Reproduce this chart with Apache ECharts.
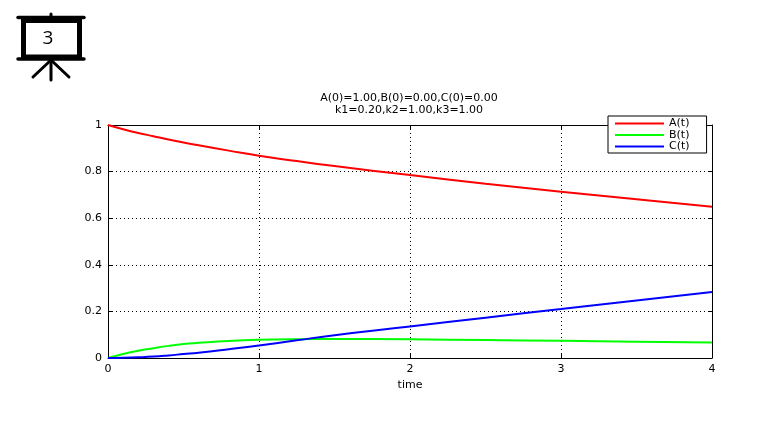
<!DOCTYPE html>
<html>
<head>
<meta charset="utf-8">
<style>html,body{margin:0;padding:0;background:#fff}#c{width:759px;height:426px}</style>
<script src="https://cdn.jsdelivr.net/npm/echarts@6/dist/echarts.min.js"></script>
</head>
<body>
<div id="c"></div>
<script>
const times = [0,0.1,0.2,0.3,0.4,0.5,0.6,0.8,1,1.25,1.5,2,2.5,3,3.5,4];
const seriesA = [1,0.982,0.966,0.952,0.938,0.925,0.913,0.890,0.868,0.845,0.824,0.785,0.748,0.714,0.681,0.649];
const seriesB = [0,0.017,0.031,0.042,0.052,0.060,0.065,0.073,0.078,0.081,0.082,0.080,0.077,0.074,0.070,0.066];
const seriesC = [0,0.001,0.003,0.006,0.011,0.017,0.023,0.038,0.054,0.076,0.098,0.135,0.173,0.210,0.247,0.283];
const names = ['A(t)','B(t)','C(t)'];
const colors = ['#ff0000','#00ff00','#0000ff'];
const titleLines = 'A(0)=1.00,B(0)=0.00,C(0)=0.00\nk1=0.20,k2=1.00,k3=1.00';
const xName = 'time';
const font = 'DejaVu Sans';
const pair = a => a.map((v,i)=>[times[i],v]);
const all = [seriesA,seriesB,seriesC];
const axisBase = {
  axisLine:{show:true,onZero:false,lineStyle:{color:'#000',width:1}},
  axisTick:{show:true,inside:true,length:4,lineStyle:{color:'#000'}},
  axisLabel:{color:'#000',fontFamily:font,fontSize:11,margin:6},
  splitLine:{show:false}
};
const chart = echarts.init(document.getElementById('c'),null,{renderer:'canvas'});
chart.setOption({
  animation:false,
  backgroundColor:'#fff',
  title:{text:titleLines,left:404,top:87,textAlign:'center',
    textStyle:{fontFamily:font,fontSize:11,fontWeight:'normal',color:'#000',lineHeight:12}},
  grid:{left:108,top:125,width:604,height:233,containLabel:false},
  legend:{show:true,orient:'vertical',left:608,top:116,itemWidth:49,itemHeight:12,itemGap:0.5,
    padding:[2,17,1,6],borderColor:'#000',borderWidth:1,backgroundColor:'#fff',z:20,
    itemStyle:{opacity:0},
    textStyle:{fontFamily:font,fontSize:11,color:'#000'},
    data:names},
  xAxis:[
    Object.assign({},axisBase,{type:'value',min:0,max:4,interval:1,name:xName,nameLocation:'middle',nameGap:20,
      nameTextStyle:{color:'#000',fontFamily:font,fontSize:11},
      splitLine:{show:true,lineStyle:{color:'#000',type:[1,3],width:1}}}),
    Object.assign({},axisBase,{type:'value',position:'top',min:0,max:4,interval:1,axisLabel:{show:false}})
  ],
  yAxis:[
    Object.assign({},axisBase,{type:'value',min:0,max:1,interval:0.2,
      axisLabel:Object.assign({},axisBase.axisLabel,{padding:[2,0,0,0]}),
      splitLine:{show:true,lineStyle:{color:'#000',type:[1,3],width:1}}}),
    Object.assign({},axisBase,{type:'value',position:'right',min:0,max:1,interval:0.2,axisLabel:{show:false}})
  ],
  series:all.map((d,i)=>({name:names[i],type:'line',data:pair(d),symbol:'none',showSymbol:false,smooth:true,
    lineStyle:{color:colors[i],width:2},itemStyle:{color:colors[i]},clip:false,z:5+i})),
  graphic:{elements:[
    {type:'rect',shape:{x:23.5,y:20.5,width:56,height:36.5},style:{fill:'#fff',stroke:'#000',lineWidth:5}},
    {type:'line',shape:{x1:18,y1:17.5,x2:84,y2:17.5},style:{stroke:'#000',lineWidth:3.5,lineCap:'round'}},
    {type:'line',shape:{x1:18,y1:59,x2:84,y2:59},style:{stroke:'#000',lineWidth:3.5,lineCap:'round'}},
    {type:'line',shape:{x1:51,y1:14,x2:51,y2:18},style:{stroke:'#000',lineWidth:3,lineCap:'round'}},
    {type:'line',shape:{x1:51,y1:59,x2:51,y2:80},style:{stroke:'#000',lineWidth:3,lineCap:'round'}},
    {type:'line',shape:{x1:51,y1:60,x2:33,y2:77},style:{stroke:'#000',lineWidth:3,lineCap:'round'}},
    {type:'line',shape:{x1:51,y1:60,x2:69,y2:77},style:{stroke:'#000',lineWidth:3,lineCap:'round'}},
    {type:'text',style:{text:'3',x:48,y:39,fill:'#000',font:'19px "Open Sans"',textAlign:'center',textVerticalAlign:'middle'}}
  ]}
});
</script>
</body>
</html>
